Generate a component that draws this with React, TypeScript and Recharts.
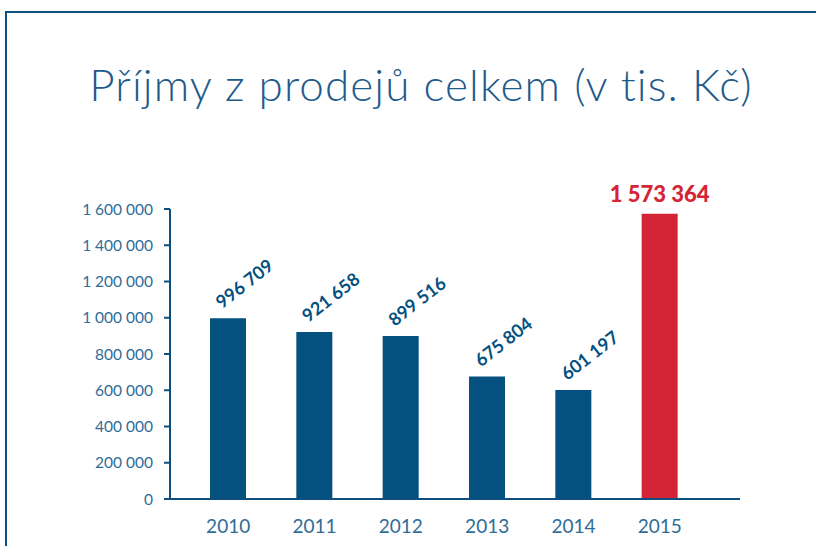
import React from "react";
import { BarChart, Bar, XAxis, YAxis, Cell, LabelList } from "recharts";

const years = ["2010", "2011", "2012", "2013", "2014", "2015"];
const revenue = [996709, 921658, 899516, 675804, 601197, 1573364];
const yTicks = [0, 200000, 400000, 600000, 800000, 1000000, 1200000, 1400000, 1600000];

const data = years.map((year, i) => ({ year, value: revenue[i] }));

const BLUE = "#04507f";
const RED = "#d32535";
const AXIS = "#0f4f7f";
const TICK_TEXT = "#2f6c97";
const FONT = "Lato, 'Open Sans', sans-serif";

const fmt = (v: number) => String(v).replace(/\B(?=(\d{3})+(?!\d))/g, " ");

function ValueLabel(props: any) {
  const { x, y, width, value, index } = props;
  if (index === years.length - 1) {
    return (
      <text
        x={x + width / 2}
        y={y - 12}
        textAnchor="middle"
        fill={RED}
        fontSize={22}
        fontWeight={900}
        fontFamily={FONT}
      >
        {fmt(value)}
      </text>
    );
  }
  const tx = x + 12;
  const ty = y - 9;
  return (
    <text
      x={tx}
      y={ty}
      transform={`rotate(-38 ${tx} ${ty})`}
      textAnchor="start"
      fill={BLUE}
      fontSize={18}
      fontWeight={700}
      fontFamily={FONT}
    >
      {fmt(value)}
    </text>
  );
}

export default function App() {
  return (
    <div
      style={{
        position: "fixed",
        left: 0,
        top: 0,
        width: 816,
        height: 546,
        background: "#fff",
        overflow: "hidden",
      }}
    >
      <div
        style={{
          position: "absolute",
          left: 5,
          top: 11,
          width: 830,
          height: 560,
          border: `2px solid ${AXIS}`,
          boxSizing: "border-box",
        }}
      />
      <div
        style={{
          position: "absolute",
          left: 0,
          top: 57,
          width: 842,
          textAlign: "center",
          fontFamily: FONT,
          fontWeight: 300,
          fontSize: 44,
          letterSpacing: 1.1,
          color: "#1d5b8c",
          lineHeight: "54px",
        }}
      >
        Příjmy z prodejů celkem (v tis. Kč)
      </div>
      <div style={{ position: "absolute", left: 0, top: 0 }}>
        <BarChart
          width={816}
          height={546}
          data={data}
          margin={{ top: 209, right: 76, bottom: 0, left: 0 }}
        >
          <XAxis
            dataKey="year"
            height={47}
            padding={{ left: 15, right: 37 }}
            tickLine={false}
            tickSize={0}
            tickMargin={21}
            axisLine={{ stroke: AXIS, strokeWidth: 2 }}
            tick={{ fill: TICK_TEXT, fontSize: 19, fontFamily: FONT }}
          />
          <YAxis
            width={170}
            domain={[0, 1600000]}
            ticks={yTicks}
            interval={0}
            tickSize={6}
            tickMargin={11}
            tickFormatter={fmt}
            axisLine={{ stroke: AXIS, strokeWidth: 2 }}
            tickLine={{ stroke: AXIS, strokeWidth: 2 }}
            tick={{ fill: TICK_TEXT, fontSize: 15.5, fontFamily: FONT }}
          />
          <Bar dataKey="value" barSize={36} isAnimationActive={false}>
            {data.map((d, i) => (
              <Cell key={d.year} fill={i === data.length - 1 ? RED : BLUE} />
            ))}
            <LabelList dataKey="value" content={ValueLabel} />
          </Bar>
        </BarChart>
      </div>
    </div>
  );
}
